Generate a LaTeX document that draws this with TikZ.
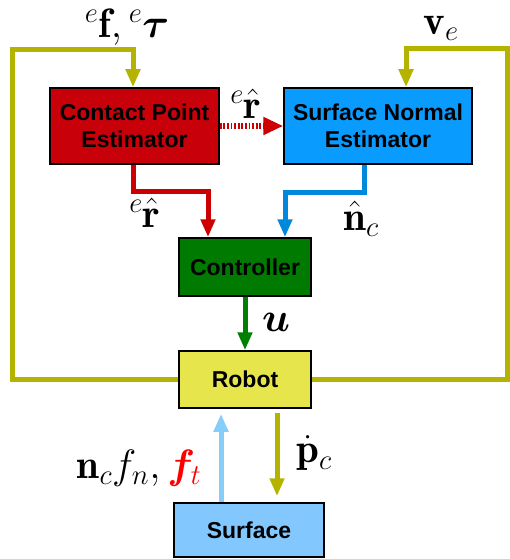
\RequirePackage{fix-cm}
\documentclass[tikz,border=0pt]{standalone}
\usepackage{amsmath,bm}
\usepackage{fontspec}
\setsansfont{Liberation Sans}
\usetikzlibrary{arrows.meta}
\definecolor{cpered}{RGB}{200,0,10}
\definecolor{arrred}{RGB}{204,0,0}
\definecolor{snblue}{RGB}{10,155,255}
\definecolor{arrblue}{RGB}{0,136,221}
\definecolor{ctgreen}{RGB}{0,122,0}
\definecolor{arrgreen}{RGB}{0,128,0}
\definecolor{robyel}{RGB}{230,230,76}
\definecolor{surfblue}{RGB}{130,200,255}
\definecolor{arrlight}{RGB}{135,205,250}
\definecolor{olive}{RGB}{180,180,0}
\begin{document}
\begin{tikzpicture}[x=1pt,y=-1pt,
  box/.style={draw=black, line width=1.5pt, inner sep=0pt, align=center,
    font=\sffamily\bfseries\fontsize{23}{27}\selectfont},
  lbl/.style={font=\fontsize{41}{46}\selectfont, inner sep=0pt},
  arr/.style={-{Triangle[length=18pt,width=14pt]}},
  conn/.style={line width=5pt, arr}]
\useasboundingbox (0,0) rectangle (510,559);
\node[box, fill=cpered, minimum width=169pt, minimum height=76pt] (cpe) at (134.5,126) {Contact Point\\Estimator};
\node[box, fill=snblue, minimum width=188pt, minimum height=76pt] (sne) at (378,126) {Surface Normal\\Estimator};
\node[box, fill=ctgreen, minimum width=132pt, minimum height=58pt] (ctrl) at (245,267) {Controller};
\node[box, fill=robyel, minimum width=132pt, minimum height=57pt] (robot) at (245,379.5) {Robot};
\node[box, fill=surfblue, minimum width=150pt, minimum height=54pt] (surf) at (249,530) {Surface};
\coordinate (lc) at (12,50);
\coordinate (rc) at (507,49);
% feedback loops
\draw[conn, draw=olive] (robot.west) -| (lc) -| ([xshift=-1.5pt]cpe.north);
\draw[conn, draw=olive] (robot.east) -| (rc) -| ([xshift=28pt]sne.north);
% dotted red
\draw[line width=5pt, draw=arrred, dash pattern=on 1.8pt off 1.8pt, -{Triangle[length=20pt,width=17pt]}] (cpe.east) -- (sne.west);
% to controller
\draw[conn, draw=arrred] ([xshift=-1.5pt]cpe.south) -- ++(0,27) -| ([xshift=-37pt]ctrl.north);
\draw[conn, draw=arrblue] ([xshift=-14pt]sne.south) -- ++(0,28) -| ([xshift=40pt]ctrl.north);
\draw[conn, draw=arrgreen] (ctrl.south) -- (robot.north);
% robot <-> surface
\draw[conn, draw=olive, shorten <=4pt, shorten >=6pt] ([xshift=32pt]robot.south) -- ([xshift=32pt]robot.south |- surf.north);
\draw[conn, draw=arrlight, shorten >=5pt] ([xshift=-28pt]surf.north) -- ([xshift=-28pt]surf.north |- robot.south);
% labels
\node[lbl] (l1) at (127,27) {${}^{e}\mathbf{f},{}^{e}\boldsymbol{\tau}$};
\node[lbl] (l2) at (441,28) {$\mathbf{v}_e$};
\node[lbl] (l3) at (246,104) {${}^{e}\hat{\mathbf{r}}$};
\node[lbl] (l4) at (145,213) {${}^{e}\hat{\mathbf{r}}$};
\node[lbl] (l5) at (361,219) {$\hat{\mathbf{n}}_c$};
\node[lbl] (l6) at (276,322) {$\boldsymbol{u}$};
\node[lbl] (l7) at (314,453) {$\dot{\mathbf{p}}_c$};
\node[lbl] (l8) at (139,468) {$\mathbf{n}_c f_n,\color{red}\boldsymbol{f}_t$};
\end{tikzpicture}
\end{document}
